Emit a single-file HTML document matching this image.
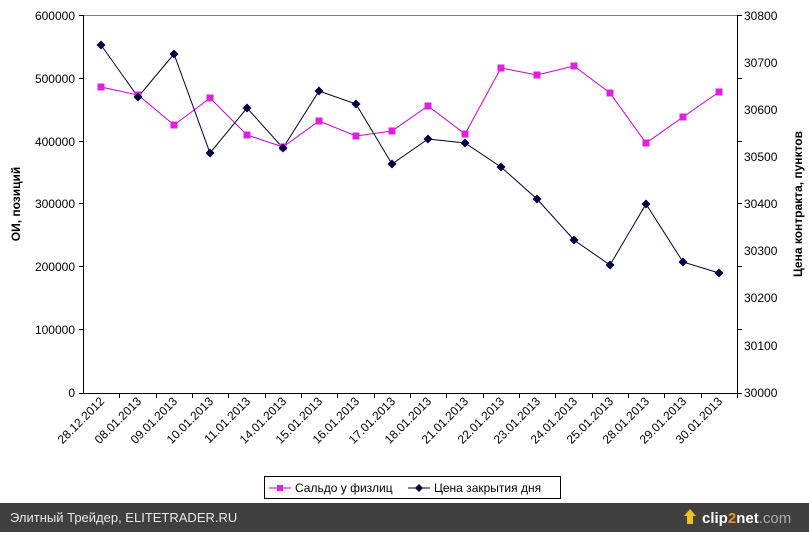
<!DOCTYPE html>
<html><head><meta charset="utf-8"><style>
body{margin:0;width:809px;height:532px;overflow:hidden;background:#fff;font-family:"Liberation Sans",Arial,sans-serif}
</style></head><body>
<svg width="809" height="532" xmlns="http://www.w3.org/2000/svg" font-family="Liberation Sans, Arial, sans-serif">
<line x1="83" y1="15.5" x2="737" y2="15.5" stroke="#808080"/>
<line x1="83.5" y1="15" x2="83.5" y2="393" stroke="#000"/>
<line x1="737.5" y1="15" x2="737.5" y2="393" stroke="#000"/>
<line x1="83" y1="393.5" x2="737" y2="393.5" stroke="#000"/>
<g font-size="12" text-anchor="end" fill="#000">
<text x="75" y="20">600000</text><text x="75" y="83">500000</text><text x="75" y="146">400000</text><text x="75" y="208">300000</text><text x="75" y="271">200000</text><text x="75" y="334">100000</text><text x="75" y="397">0</text>
</g>
<g stroke="#000"><path d="M79 15.5h4M79 78.5h4M79 141.5h4M79 203.5h4M79 266.5h4M79 329.5h4M79 393.5h4"/>
<path d="M737 15.5h5M737 78.5h5M737 141.5h5M737 203.5h5M737 266.5h5M737 329.5h5M737 393.5h5"/></g>
<g font-size="12" fill="#000">
<text x="744" y="20">30800</text><text x="744" y="67">30700</text><text x="744" y="114">30600</text><text x="744" y="161">30500</text><text x="744" y="208">30400</text><text x="744" y="255">30300</text><text x="744" y="302">30200</text><text x="744" y="350">30100</text><text x="744" y="397">30000</text>
</g>
<text transform="translate(20,204) rotate(-90)" font-size="12" font-weight="bold" text-anchor="middle">ОИ, позиций</text>
<text transform="translate(802,204) rotate(-90)" font-size="12" font-weight="bold" text-anchor="middle">Цена контракта, пунктов</text>
<g font-size="12" text-anchor="end" id="xl"></g>
<polyline fill="none" stroke="#cc00cc" stroke-width="1" points="101,87 138,95 174,125 210,98 247,135 283,147 319,121 356,136 392,131 428,106 465,134 501,68 537,75 574,66 610,93 646,143 683,117 719,92"/>
<polyline fill="none" stroke="#000033" stroke-width="1" points="101,45 138,97 174,54 210,153 247,108 283,148 319,91 356,104 392,164 428,139 465,143 501,167 537,199 574,240 610,265 646,204 683,262 719,273"/>
<g fill="#e020e0" id="sq"></g><g fill="#000040" id="dm"></g>
<rect x="264.5" y="476.5" width="296" height="22" fill="#fff" stroke="#000"/>
<line x1="269" y1="488" x2="291" y2="488" stroke="#cc00cc"/><rect x="277" y="485" width="6" height="6" fill="#e020e0"/>
<text x="295" y="492" font-size="12">Сальдо у физлиц</text>
<line x1="408" y1="488" x2="430" y2="488" stroke="#000033"/><path d="M419 484l4 4-4 4-4-4z" fill="#000040"/>
<text x="434" y="492" font-size="12">Цена закрытия дня</text>
<rect x="0" y="503" width="809" height="29" fill="#404040"/>
<text x="10" y="522" font-size="13" fill="#e8e8e8">Элитный Трейдер, ELITETRADER.RU</text>
<path d="M690 509l6 7h-3v8h-6v-8h-3z" fill="#f0c020"/>
<text x="702" y="523" font-size="15" font-weight="bold" fill="#fff">clip<tspan fill="#f09020">2</tspan>net<tspan fill="#aaa" font-weight="normal">.com</tspan></text>
</svg>
<script>
var xs=[101,138,174,210,247,283,319,356,392,428,465,501,537,574,610,646,683,719];
var labs=["28.12.2012","09.01.2013","09.01.2013","10.01.2013","11.01.2013","14.01.2013","15.01.2013","16.01.2013","17.01.2013","18.01.2013","21.01.2013","22.01.2013","23.01.2013","24.01.2013","25.01.2013","28.01.2013","29.01.2013","30.01.2013"];
labs[1]="08.01.2013";
var p=[87,95,125,98,135,147,121,136,131,106,134,68,75,66,93,143,117,92];
var b=[45,97,54,153,108,148,91,104,164,139,143,167,199,240,265,204,262,273];
var ns="http://www.w3.org/2000/svg",xl=document.getElementById('xl'),sq=document.getElementById('sq'),dm=document.getElementById('dm');
var svg=document.querySelector('svg');
for(var i=0;i<18;i++){
 var t=document.createElementNS(ns,'text');t.setAttribute('transform','translate('+(xs[i]+4)+',402) rotate(-45)');t.textContent=labs[i];xl.appendChild(t);
 var tk=document.createElementNS(ns,'line');var tx=Math.round(83+36.33*(i+1))+0.5;tk.setAttribute('x1',tx);tk.setAttribute('x2',tx);tk.setAttribute('y1',393);tk.setAttribute('y2',398);tk.setAttribute('stroke','#000');svg.appendChild(tk);
 var r=document.createElementNS(ns,'rect');r.setAttribute('x',xs[i]-3.5);r.setAttribute('y',p[i]-3.5);r.setAttribute('width',7);r.setAttribute('height',7);sq.appendChild(r);
 var d=document.createElementNS(ns,'path');d.setAttribute('d','M'+xs[i]+' '+(b[i]-4.5)+'l4.5 4.5-4.5 4.5-4.5-4.5z');dm.appendChild(d);
}
</script>
</body></html>
